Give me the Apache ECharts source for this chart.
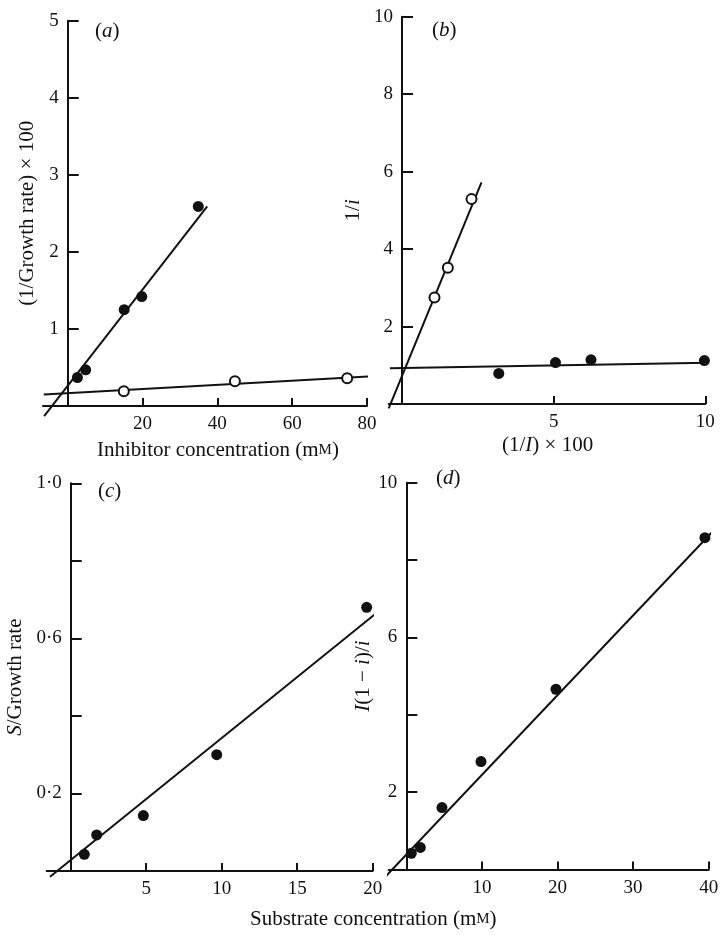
<!DOCTYPE html>
<html>
<head>
<meta charset="utf-8">
<script src="https://cdn.jsdelivr.net/npm/echarts@6/dist/echarts.min.js"></script>
<style>
  html, body { margin: 0; background: #fff; }
  #chart { width: 724px; height: 935px; }
</style>
</head>
<body>
<div id="chart"></div>
<script>
// (a) growth rate vs inhibitor concentration
const aClosedX = [2.6, 4.8, 15.1, 19.8, 34.9];
const aClosedY = [0.37, 0.47, 1.25, 1.42, 2.59];
const aOpenX = [15, 44.7, 74.7];
const aOpenY = [0.19, 0.32, 0.36];
const aFitClosed = [[-6.3, -0.13], [37.3, 2.59]];
const aFitOpen = [[-6.4, 0.15], [82.4, 0.39]];
const aTicksX = [20, 40, 60, 80];
const aTicksY = [1, 2, 3, 4, 5];

// (b) 1/i vs 1/I
const bClosedX = [3.19, 5.06, 6.23, 9.97];
const bClosedY = [0.79, 1.07, 1.14, 1.12];
const bOpenX = [1.07, 1.51, 2.29];
const bOpenY = [2.75, 3.52, 5.29];
const bFitOpen = [[-0.44, -0.11], [2.62, 5.72]];
const bFitClosed = [[-0.4, 0.92], [10.6, 1.07]];
const bTicksX = [5, 10];
const bTicksY = [2, 4, 6, 8, 10];

// (c) S/growth rate vs substrate
const cX = [0.9, 1.72, 4.81, 9.67, 19.6];
const cY = [0.043, 0.093, 0.143, 0.30, 0.68];
const cFit = [[-1.37, -0.015], [20.4, 0.67]];
const cTicksX = [5, 10, 15, 20];
const cTicksY = [0.2, 0.4, 0.6, 0.8, 1.0];
const cLabelsY = [0.2, 0.6, 1.0];

// (d) I(1-i)/i vs substrate
const dX = [0.66, 1.85, 4.72, 9.88, 19.8, 39.5];
const dY = [0.42, 0.57, 1.6, 2.79, 4.66, 8.58];
const dFit = [[-2.99, -0.23], [41.75, 8.99]];
const dTicksX = [10, 20, 30, 40];
const dTicksY = [2, 4, 6, 8, 10];
const dLabelsY = [2, 6, 10];

const FONT = 'Liberation Serif';
const INK = '#111';
const rich = {
  i: { fontFamily: FONT, fontStyle: 'italic', fontSize: 21, color: INK },
  sc: { fontFamily: FONT, fontSize: 15, color: INK }
};

const grids = [
  { left: 43, top: 20.7, width: 324, height: 385.3, xMin: -6.6, xMax: 80 },
  { left: 388.7, top: 16.7, width: 316.6, height: 387.3, xMin: -0.44, xMax: 10 },
  { left: 46.7, top: 483.3, width: 326, height: 387.7, xMin: -1.59, xMax: 20 },
  { left: 388.7, top: 482.7, width: 320, height: 386.8, xMin: -2.33, xMax: 40 }
];

const pairs = (xs, ys) => xs.map((x, i) => [x, ys[i]]);
const dotFmt = v => v.toFixed(1).replace('.', '\u00b7');

function xAxisFor(g, ticks) {
  const gr = grids[g];
  return {
    type: 'value', gridIndex: g, min: gr.xMin, max: gr.xMax,
    splitLine: { show: false },
    axisLine: { onZero: false, lineStyle: { color: INK, width: 2 } },
    axisTick: { inside: true, length: 8, customValues: ticks, lineStyle: { color: INK, width: 2 } },
    axisLabel: { customValues: ticks, margin: 9, fontFamily: FONT, fontSize: 19, color: INK }
  };
}

function yAxisFor(g, max, ticks, labels, name, gap, fmt) {
  const gr = grids[g];
  // shift the vertical axis from the grid edge onto x = 0
  const shift = (0 - gr.xMin) / (gr.xMax - gr.xMin) * gr.width;
  return {
    type: 'value', gridIndex: g, min: 0, max: max, offset: -shift,
    splitLine: { show: false },
    axisLine: { onZero: false, lineStyle: { color: INK, width: 2 } },
    axisTick: { inside: true, length: 11, customValues: ticks, lineStyle: { color: INK, width: 2 } },
    axisLabel: { customValues: labels, margin: 9, fontFamily: FONT, fontSize: 19, color: INK, formatter: fmt },
    name: name, nameLocation: 'middle', nameRotate: 90, nameGap: gap,
    nameTextStyle: { fontFamily: FONT, fontSize: 21, color: INK, rich: rich }
  };
}

function dots(g, data, open) {
  return {
    type: 'scatter', xAxisIndex: g, yAxisIndex: g, data: data,
    symbol: 'circle', symbolSize: open ? 10 : 11, z: 5,
    itemStyle: open
      ? { color: '#fff', borderColor: INK, borderWidth: 2, opacity: 1 }
      : { color: INK, borderWidth: 0, opacity: 1 }
  };
}

function fit(g, data) {
  return {
    type: 'line', xAxisIndex: g, yAxisIndex: g, data: data,
    symbol: 'none', clip: false, z: 3,
    lineStyle: { color: INK, width: 2 }
  };
}

function label(text, left, top) {
  return {
    text: text, left: left, top: top, padding: 0,
    textStyle: { fontFamily: FONT, fontSize: 21, fontWeight: 'normal', color: INK, rich: rich }
  };
}

const chart = echarts.init(document.getElementById('chart'));

chart.setOption({
  backgroundColor: '#fff',
  animation: false,
  title: [
    label('({i|a})', 95, 21),
    label('({i|b})', 432, 20),
    label('({i|c})', 98, 481),
    label('({i|d})', 436, 468),
    label('Inhibitor concentration (m{sc|M})', 97, 440),
    label('(1/{i|I}) × 100', 502, 435),
    label('Substrate concentration (m{sc|M})', 250, 909)
  ],
  grid: grids.map(gr => ({
    left: gr.left, top: gr.top, width: gr.width, height: gr.height,
    outerBoundsMode: 'none', containLabel: false
  })),
  xAxis: [
    xAxisFor(0, aTicksX),
    xAxisFor(1, bTicksX),
    xAxisFor(2, cTicksX),
    xAxisFor(3, dTicksX)
  ],
  yAxis: [
    yAxisFor(0, 5, aTicksY, aTicksY, '(1/Growth rate) × 100', 30),
    yAxisFor(1, 10, bTicksY, bTicksY, '1/{i|i}', 38),
    yAxisFor(2, 1, cTicksY, cLabelsY, '{i|S}/Growth rate', 45, dotFmt),
    yAxisFor(3, 10, dTicksY, dLabelsY, '{i|I}(1 \u2212 {i|i})/{i|i}', 32)
  ],
  series: [
    fit(0, aFitClosed),
    fit(0, aFitOpen),
    dots(0, pairs(aClosedX, aClosedY), false),
    dots(0, pairs(aOpenX, aOpenY), true),
    fit(1, bFitOpen),
    fit(1, bFitClosed),
    dots(1, pairs(bClosedX, bClosedY), false),
    dots(1, pairs(bOpenX, bOpenY), true),
    fit(2, cFit),
    dots(2, pairs(cX, cY), false),
    fit(3, dFit),
    dots(3, pairs(dX, dY), false)
  ]
});
</script>
</body>
</html>
